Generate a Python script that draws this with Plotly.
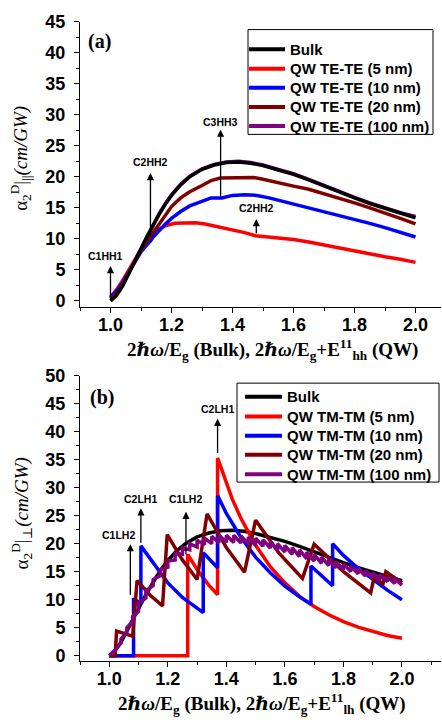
import plotly.graph_objects as go

# ---------------- (a) TE-TE, parallel polarisation ----------------
bulk_x = [1.00, 1.02, 1.04, 1.06, 1.08, 1.10, 1.12, 1.14, 1.16, 1.18, 1.20, 1.23, 1.26, 1.30,
          1.34, 1.38, 1.42, 1.46, 1.50, 1.55, 1.60, 1.65, 1.70, 1.75, 1.80, 1.85, 1.90, 1.95, 2.00]
bulk_y = [0.0, 0.9, 2.4, 4.3, 6.3, 8.4, 10.4, 12.3, 14.0, 15.6, 17.0, 18.7, 20.0, 21.2,
          21.9, 22.3, 22.4, 22.2, 21.8, 21.1, 20.4, 19.5, 18.5, 17.5, 16.6, 15.7, 14.9, 14.1, 13.4]

te100_x = bulk_x
te100_y = [0.3, 1.1, 2.6, 4.5, 6.5, 8.5, 10.5, 12.4, 14.1, 15.7, 17.1, 18.8, 20.1, 21.3,
           22.0, 22.4, 22.5, 22.3, 21.9, 21.2, 20.5, 19.6, 18.6, 17.6, 16.7, 15.8, 15.0, 14.2, 13.6]

te20_x = [1.00, 1.02, 1.04, 1.06, 1.08, 1.10, 1.12, 1.13, 1.15, 1.18, 1.20, 1.23, 1.26, 1.30,
          1.33, 1.36, 1.40, 1.44, 1.47, 1.50, 1.55, 1.60, 1.65, 1.70, 1.75, 1.80, 1.85, 1.90, 1.95, 2.00]
te20_y = [0.3, 1.2, 2.7, 4.5, 6.4, 8.2, 9.6, 10.3, 11.8, 13.9, 15.2, 16.6, 17.6, 18.6,
          19.4, 19.8, 19.8, 19.9, 19.9, 19.6, 19.0, 18.5, 18.0, 17.3, 16.6, 15.8, 15.0, 14.2, 13.3, 12.4]

te10_x = [1.00, 1.02, 1.04, 1.06, 1.08, 1.10, 1.12, 1.13, 1.14, 1.16, 1.18, 1.20, 1.23, 1.26, 1.30,
          1.33, 1.365, 1.40, 1.44, 1.48, 1.52, 1.56, 1.60, 1.65, 1.70, 1.75, 1.80, 1.85, 1.90, 1.95, 2.00]
te10_y = [0.5, 1.6, 3.0, 4.6, 6.3, 7.9, 9.1, 9.6, 10.3, 11.4, 12.4, 13.3, 14.4, 15.3, 16.1,
          16.6, 16.6, 17.0, 17.1, 17.0, 16.6, 16.1, 15.6, 15.0, 14.4, 13.8, 13.2, 12.5, 11.8, 11.1, 10.3]

te5_x = [1.00, 1.02, 1.04, 1.06, 1.08, 1.10, 1.12, 1.14, 1.16, 1.18, 1.21, 1.25, 1.28, 1.31, 1.35,
         1.40, 1.44, 1.475, 1.50, 1.55, 1.60, 1.65, 1.70, 1.75, 1.80, 1.85, 1.90, 1.95, 2.00]
te5_y = [0.6, 1.8, 3.3, 5.0, 6.7, 8.3, 9.7, 10.8, 11.6, 12.1, 12.5, 12.6, 12.6, 12.4, 12.0,
         11.5, 11.0, 10.5, 10.4, 10.2, 9.9, 9.5, 9.0, 8.6, 8.1, 7.6, 7.1, 6.7, 6.2]

# ---------------- (b) TM-TM, perpendicular polarisation ----------------
tm5_x = [1.00, 1.268, 1.268, 1.30, 1.34, 1.370, 1.370, 1.39, 1.42, 1.45, 1.50, 1.55, 1.60,
         1.65, 1.70, 1.75, 1.80, 1.85, 1.90, 1.95, 2.00]
tm5_y = [0.0, 0.0, 18.1, 15.4, 12.6, 10.9, 35.3, 32.2, 28.0, 24.5, 19.7, 15.9, 13.0,
         10.6, 8.8, 7.3, 6.1, 5.1, 4.3, 3.6, 3.1]

tm10_x = [1.00, 1.083, 1.083, 1.108, 1.108, 1.15, 1.20, 1.25, 1.30, 1.321, 1.321, 1.345, 1.370,
          1.370, 1.40, 1.45, 1.50, 1.55, 1.60, 1.65, 1.689, 1.689, 1.72, 1.763, 1.763, 1.80,
          1.85, 1.90, 1.95, 2.00]
tm10_y = [0.0, 0.0, 10.2, 9.3, 19.6, 16.5, 13.0, 10.4, 8.4, 7.7, 18.4, 17.0, 15.7,
          28.6, 25.4, 21.1, 17.6, 14.8, 12.4, 10.5, 9.2, 16.0, 14.5, 12.5, 20.0, 17.9,
          15.6, 13.6, 11.7, 10.0]

tm20_x = [1.00, 1.020, 1.025, 1.080, 1.095, 1.14, 1.182, 1.198, 1.25, 1.300, 1.334, 1.40, 1.462,
          1.500, 1.58, 1.660, 1.700, 1.80, 1.893, 1.905, 1.935, 1.945, 2.00]
tm20_y = [0.0, 0.0, 4.4, 3.5, 13.4, 10.8, 8.9, 21.6, 17.1, 13.6, 25.3, 19.3, 14.9,
          24.2, 18.3, 13.8, 19.9, 15.0, 11.2, 14.0, 12.8, 15.0, 13.0]

tm100_x = [1.00, 1.02, 1.04, 1.04, 1.06, 1.06, 1.08, 1.08,
           1.100, 1.100, 1.125, 1.125, 1.150, 1.150, 1.175, 1.175, 1.200, 1.200, 1.225, 1.225,
           1.250, 1.250, 1.275, 1.275, 1.300, 1.300, 1.325, 1.325, 1.350, 1.350, 1.375, 1.375,
           1.400, 1.400, 1.425, 1.425, 1.450, 1.450, 1.475, 1.475, 1.500, 1.500, 1.525, 1.525,
           1.550, 1.550, 1.575, 1.575, 1.600, 1.600, 1.625, 1.625, 1.650, 1.650, 1.675, 1.675,
           1.700, 1.700, 1.725, 1.725, 1.750, 1.750, 1.775, 1.775, 1.800, 1.800, 1.825, 1.825,
           1.850, 1.850, 1.875, 1.875, 1.900, 1.900, 1.925, 1.925, 1.950, 1.950, 1.975, 1.975, 2.000]
tm100_y = [0.0, 1.0, 2.3, 3.0, 4.2, 5.0, 6.1, 7.0,
           7.9, 9.4, 10.3, 11.6, 12.5, 13.6, 14.3, 15.4, 15.8, 16.9, 17.1, 18.2,
           18.1, 19.2, 18.9, 20.0, 19.4, 20.6, 19.8, 21.0, 20.0, 21.3, 20.2, 21.5,
           20.2, 21.5, 20.2, 21.5, 20.1, 21.4, 19.9, 21.2, 19.7, 21.0, 19.5, 20.7,
           19.2, 20.4, 18.8, 20.0, 18.5, 19.7, 18.1, 19.3, 17.7, 18.9, 17.3, 18.5,
           16.9, 18.1, 16.5, 17.6, 16.1, 17.2, 15.7, 16.8, 15.3, 16.4, 15.0, 16.0,
           14.6, 15.6, 14.2, 15.2, 13.9, 14.8, 13.5, 14.5, 13.2, 14.1, 12.9, 13.8, 12.6]

x_ticks = [1.0, 1.2, 1.4, 1.6, 1.8, 2.0]
x_ticktext = ["1.0", "1.2", "1.4", "1.6", "1.8", "2.0"]
ya_ticks = [0, 5, 10, 15, 20, 25, 30, 35, 40, 45]
yb_ticks = [0, 5, 10, 15, 20, 25, 30, 35, 40, 45, 50]

names_a = ["Bulk", "QW TE-TE (5 nm)", "QW TE-TE (10 nm)", "QW TE-TE (20 nm)", "QW TE-TE (100 nm)"]
names_b = ["Bulk", "QW TM-TM (5 nm)", "QW TM-TM (10 nm)", "QW TM-TM (20 nm)", "QW TM-TM (100 nm)"]
colors = ["#000000", "#ff0000", "#0000ff", "#800000", "#800080"]

W, H = 442, 728
SANS = "Liberation Sans, Arial, sans-serif"
SERIF = "Liberation Serif, Times New Roman, DejaVu Serif, serif"

fig = go.Figure()


def line(x, y, name, color, xa, ya):
    fig.add_trace(go.Scatter(x=x, y=y, name=name, mode="lines", xaxis=xa, yaxis=ya,
                             showlegend=False, line=dict(color=color, width=3.5)))


# panel (a): 100 nm underneath the bulk curve
line(te100_x, te100_y, names_a[4], colors[4], "x", "y")
line(te5_x, te5_y, names_a[1], colors[1], "x", "y")
line(te10_x, te10_y, names_a[2], colors[2], "x", "y")
line(te20_x, te20_y, names_a[3], colors[3], "x", "y")
line(bulk_x, bulk_y, names_a[0], colors[0], "x", "y")

# panel (b)
line(bulk_x, bulk_y, names_b[0], colors[0], "x2", "y2")
line(tm5_x, tm5_y, names_b[1], colors[1], "x2", "y2")
line(tm10_x, tm10_y, names_b[2], colors[2], "x2", "y2")
line(tm20_x, tm20_y, names_b[3], colors[3], "x2", "y2")
line(tm100_x, tm100_y, names_b[4], colors[4], "x2", "y2")


def px_x(p):
    return p / W


def px_y(p):
    return 1 - p / H


xdom = [px_x(80), px_x(441)]
ydom_a = [px_y(303.3), px_y(12)]
ydom_b = [px_y(665), px_y(373.3)]
xr_a = [0.9, 0.9 + 361 / 305.0]
xr_b = [0.9, 0.9 + 361 / 292.7]

tickfont = dict(family=SANS, size=18, color="black", weight="bold")
common = dict(showline=True, linecolor="black", linewidth=1, showgrid=False, zeroline=False,
              ticks="outside", ticklen=5, tickwidth=1, tickcolor="black", tickfont=tickfont)
mirror = dict(showline=True, linecolor="black", linewidth=1, showgrid=False, zeroline=False,
              ticks="inside", ticklen=4, tickwidth=1, tickcolor="black", showticklabels=False)
xminor = dict(dtick=0.1, tick0=0.9, ticks="outside", ticklen=3, tickcolor="black")
yminor = dict(dtick=2.5, tick0=0, ticks="outside", ticklen=3, tickcolor="black")

fig.update_layout(
    width=W, height=H, autosize=False,
    margin=dict(l=0, r=0, t=0, b=0),
    paper_bgcolor="white", plot_bgcolor="white",
    showlegend=False,
    xaxis=dict(domain=xdom, anchor="y", range=xr_a, tickvals=x_ticks, ticktext=x_ticktext,
               minor=xminor, ticklabelstandoff=-4, **common),
    yaxis=dict(domain=ydom_a, anchor="x", range=[-1, 45], tickvals=ya_ticks,
               minor=yminor, ticklabelstandoff=5, **common),
    xaxis2=dict(domain=xdom, anchor="y2", range=xr_b, tickvals=x_ticks, ticktext=x_ticktext,
                minor=xminor, ticklabelstandoff=-4, **common),
    yaxis2=dict(domain=ydom_b, anchor="x2", range=[-1, 50], tickvals=yb_ticks,
                minor=yminor, ticklabelstandoff=5, **common),
    xaxis3=dict(overlaying="x", side="top", anchor="y", range=xr_a, dtick=0.1, tick0=0.9, **mirror),
    yaxis3=dict(overlaying="y", side="right", anchor="x", range=[-1, 45], dtick=2.5, tick0=0, **mirror),
    xaxis4=dict(overlaying="x2", side="top", anchor="y2", range=xr_b, dtick=0.1, tick0=0.9, **mirror),
    yaxis4=dict(overlaying="y2", side="right", anchor="x2", range=[-1, 50], dtick=2.5, tick0=0, **mirror),
)

ann = []
shapes = []

# legends: framed box, colour sample and bold label per row
legend_font = dict(family=SANS, size=15, color="black", weight="bold")
legend_specs = [
    (names_a, (248, 433, 20, 127), [40, 60, 79.5, 99, 118.5], (249, 285), 288),
    (names_b, (237, 439, 381, 482), [395, 415, 434.7, 454, 474], (245, 282), 285),
]
for names, (bx0, bx1, by0, by1), rows, (lx0, lx1), tx in legend_specs:
    shapes.append(dict(type="rect", xref="paper", yref="paper",
                       x0=px_x(bx0), x1=px_x(bx1), y0=px_y(by1), y1=px_y(by0),
                       line=dict(color="black", width=1), fillcolor="white", layer="above"))
    for name, color, ry in zip(names, colors, rows):
        shapes.append(dict(type="line", xref="paper", yref="paper",
                           x0=px_x(lx0), x1=px_x(lx1), y0=px_y(ry), y1=px_y(ry),
                           line=dict(color=color, width=4), layer="above"))
        ann.append(dict(text=name, x=px_x(tx), y=px_y(ry), xref="paper", yref="paper",
                        xanchor="left", yanchor="middle", showarrow=False, font=legend_font))

# axis titles and panel letters
xt_a = "2<i>ℏω</i>/E<sub>g</sub> (Bulk), 2<i>ℏω</i>/E<sub>g</sub>+E<sup>11</sup><sub>hh</sub> (QW)"
xt_b = "2<i>ℏω</i>/E<sub>g</sub> (Bulk), 2<i>ℏω</i>/E<sub>g</sub>+E<sup>11</sup><sub>lh</sub> (QW)"
yt_a = "α<sub>2</sub><sup>D</sup>|<sub>||</sub><i>(cm/GW)</i>"
yt_b = "α<sub>2</sub><sup>D</sup>|<sub>⊥</sub><i>(cm/GW)</i>"
title_font = dict(family=SERIF, size=19, color="black", weight="bold")
for text, cx, cy in [(xt_a, 272, 347), (xt_b, 262, 708)]:
    ann.append(dict(text=text, x=px_x(cx), y=px_y(cy), xref="paper", yref="paper",
                    xanchor="center", yanchor="middle", showarrow=False, font=title_font))
for text, cx, cy in [(yt_a, 21, 152), (yt_b, 21, 514)]:
    ann.append(dict(text=text, x=px_x(cx), y=px_y(cy), xref="paper", yref="paper",
                    xanchor="center", yanchor="middle", showarrow=False, textangle=-90,
                    font=dict(family=SERIF, size=19, color="black")))
for text, lx, cy in [("(a)", 86, 32), ("(b)", 88, 396)]:
    ann.append(dict(text=text, x=px_x(lx), y=px_y(cy), xref="paper", yref="paper",
                    xanchor="left", yanchor="middle", showarrow=False,
                    font=dict(family=SERIF, size=20, color="black", weight="bold")))

# transition markers: (label, x, tail y, head y, label y)
marks_a = [("C1HH1", 1.000, 0.4, 5.6, 7.2),
           ("C2HH2", 1.131, 10.1, 20.6, 22.4),
           ("C3HH3", 1.361, 16.5, 27.6, 28.9),
           ("C2HH2", 1.478, 10.6, 13.2, 14.9)]
marks_b = [("C1LH2", 1.072, 10.6, 19.9, 21.6),
           ("C2LH1", 1.108, 19.9, 26.3, 27.9),
           ("C1LH2", 1.262, 17.8, 25.7, 27.9),
           ("C2LH1", 1.370, 35.9, 42.3, 44.1)]
lab_dx = {"C1HH1": -0.015, "C1LH2": -0.04}
mark_font = dict(family=SANS, size=10.5, color="black", weight="bold")
for marks, xa, ya in [(marks_a, "x", "y"), (marks_b, "x2", "y2")]:
    for i, (lab, mx, y0, y1, ly) in enumerate(marks):
        ann.append(dict(x=mx, y=y1, ax=mx, ay=y0, xref=xa, yref=ya, axref=xa, ayref=ya,
                        showarrow=True, arrowhead=2, arrowsize=1.1, arrowwidth=1.3,
                        arrowcolor="black", text=""))
        dx = lab_dx.get(lab, 0.0) if i == 0 else 0.0
        ann.append(dict(x=mx + dx, y=ly, xref=xa, yref=ya, text=lab, showarrow=False,
                        xanchor="center", yanchor="middle", font=mark_font))

fig.update_layout(annotations=ann, shapes=shapes)
fig.write_html("out.html")
